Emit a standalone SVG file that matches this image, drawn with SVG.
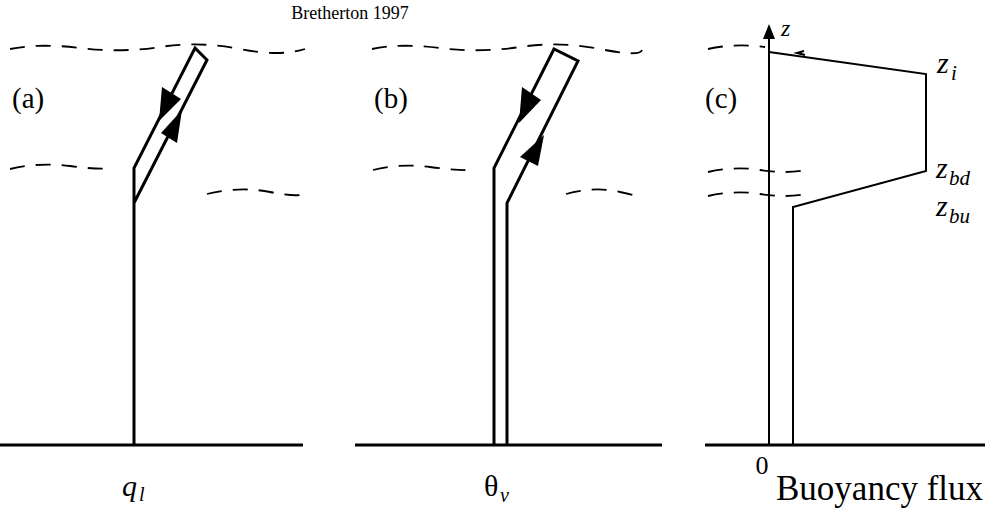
<svg xmlns="http://www.w3.org/2000/svg" width="985" height="508" viewBox="0 0 985 508">
<style>
.ln{fill:none;stroke:#000;stroke-width:3;stroke-linejoin:miter}
.thin{fill:none;stroke:#000;stroke-width:2}
.dash{fill:none;stroke:#000;stroke-width:1.8;stroke-dasharray:15 11}
.ah{fill:#000;stroke:none}
text{font-family:'Liberation Serif','DejaVu Serif',serif;fill:#000}
.it{font-style:italic}
</style>
<rect width="985" height="508" fill="#fff"/>
<text font-family="Liberation Serif, DejaVu Serif, serif" x="350" y="19" font-size="18" text-anchor="middle">Bretherton 1997</text>

<g id="panel-a" font-family="Liberation Serif, DejaVu Serif, serif">
  <path class="dash" d="M10,49 Q40,43 80,48 T160,47 T240,49 T305,49"/>
  <path class="dash" d="M10,169 Q40,162 70,166 T112,168"/>
  <path class="dash" d="M207,194 Q240,186 270,192 T305,193"/>
  <line class="ln" x1="0" y1="445" x2="303" y2="445"/>
  <path class="ln" d="M134,445 L134,168 L195,48 L207,60 L134,203"/>
  <polygon class="ah" points="162,87 181,99 159,121"/>
  <polygon class="ah" points="161,133 177,143 182,110"/>
  <text x="12" y="108" font-size="29">(a)</text>
  <text class="it" x="122" y="496" font-size="30">q</text>
  <text class="it" x="139" y="501" font-size="20">l</text>
</g>

<g id="panel-b" font-family="Liberation Serif, DejaVu Serif, serif">
  <path class="dash" d="M372,49 Q400,43 440,48 T520,47 T600,49 T642,50"/>
  <path class="dash" d="M373,170 Q400,163 430,167 T473,170"/>
  <path class="dash" d="M566,194 Q595,186 620,192 T642,196"/>
  <line class="ln" x1="355" y1="445" x2="662" y2="445"/>
  <path class="ln" d="M494,445 L494,168 L554,49 L578,61 L507,203 L507,445"/>
  <polygon class="ah" points="522,87 541,100 519,123"/>
  <polygon class="ah" points="520,157 538,166 544,135"/>
  <text x="374" y="108" font-size="29">(b)</text>
  <text x="484" y="496" font-size="30">θ</text>
  <text class="it" x="500" y="502" font-size="20">v</text>
</g>

<g id="panel-c" font-family="Liberation Serif, DejaVu Serif, serif">
  <path class="dash" d="M708,49 Q735,43 765,47"/>
  <path class="dash" d="M708,172 Q735,166 760,170 T806,170"/>
  <path class="dash" d="M708,196 Q735,190 760,194 T806,194"/>
  <line class="ln" x1="705" y1="445" x2="985" y2="445"/>
  <line class="thin" x1="769" y1="445" x2="769" y2="36"/>
  <polygon class="ah" points="769,24 763,39 775,39"/>
  <path class="thin" d="M769,52 L926,74 L926,171 L793,207 L793,445"/>
  <path class="thin" d="M804,51 L797,53 L805,55" stroke-width="1.5"/>
  <text class="it" x="781" y="36" font-size="24">z</text>
  <text x="705" y="108" font-size="29">(c)</text>
  <text class="it" x="937" y="73" font-size="30">z</text>
  <text class="it" x="951" y="80" font-size="21">i</text>
  <text class="it" x="936" y="178" font-size="30">z</text>
  <text class="it" x="949" y="185" font-size="21">bd</text>
  <text class="it" x="936" y="216" font-size="30">z</text>
  <text class="it" x="949" y="223" font-size="21">bu</text>
  <text x="762" y="474" font-size="26" text-anchor="middle">0</text>
  <text x="776" y="500" font-size="35">Buoyancy flux</text>
</g>
</svg>
